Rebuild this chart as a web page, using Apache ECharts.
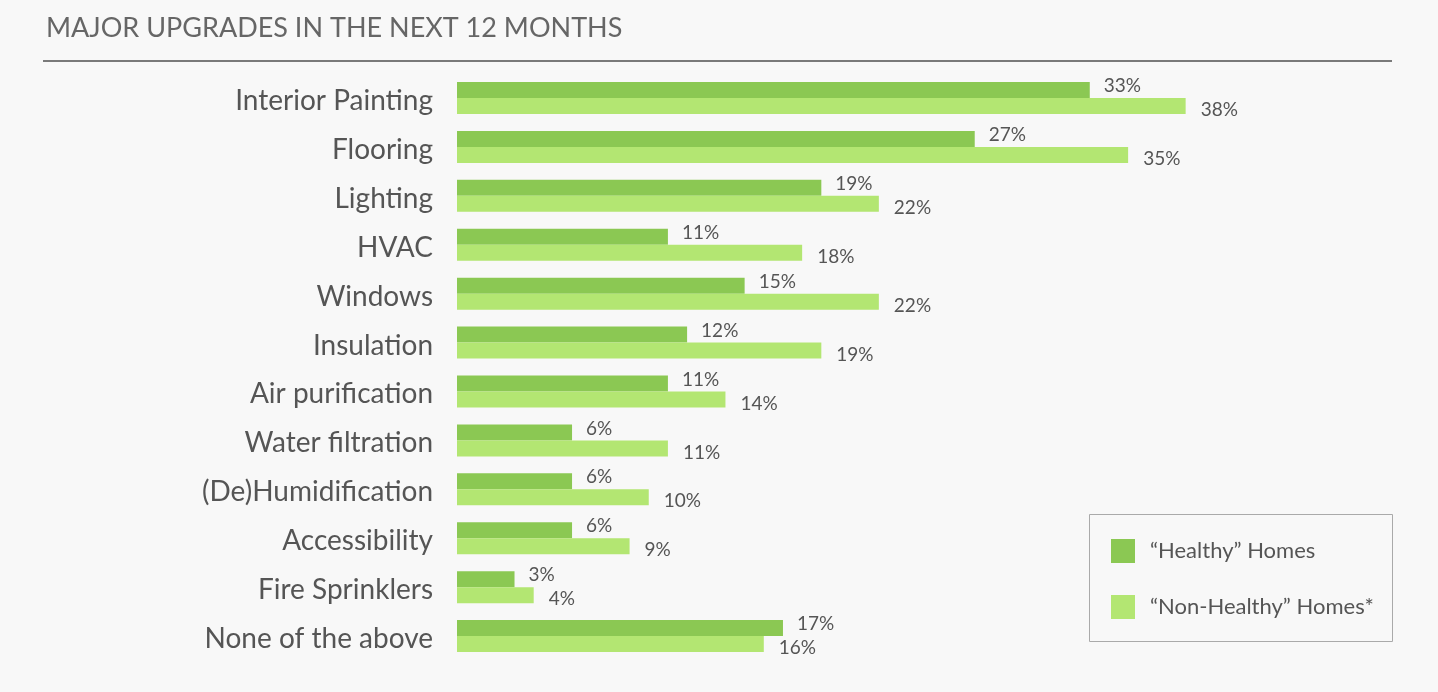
<!DOCTYPE html>
<html><head><meta charset="utf-8">
<script src="https://cdn.jsdelivr.net/npm/echarts@6/dist/echarts.min.js"></script>
<style>html,body{margin:0;padding:0;background:#f8f8f8}#c{width:1438px;height:692px}</style>
</head><body><div id="c"></div>
<script>
const categories = ["Interior Painting","Flooring","Lighting","HVAC","Windows","Insulation","Air purification","Water filtration","(De)Humidification","Accessibility","Fire Sprinklers","None of the above"];
const healthy = [33,27,19,11,15,12,11,6,6,6,3,17];
const nonHealthy = [38,35,22,18,22,19,14,11,10,9,4,16];
const seriesNames = ["\u201cHealthy\u201d Homes","\u201cNon-Healthy\u201d Homes*"];
const titleText = "MAJOR UPGRADES IN THE NEXT 12 MONTHS";

const FONT = "Lato";
const chart = echarts.init(document.getElementById('c'));
chart.setOption({
  backgroundColor: '#f8f8f8',
  animation: false,
  title: {text: titleText, left: 41, top: 10, textStyle: {fontFamily: FONT, fontWeight: 'normal', fontSize: 27, color: '#666'}},
  graphic: [
    {type: 'line', shape: {x1: 43, y1: 61, x2: 1392, y2: 61}, style: {stroke: '#7a7a7a', lineWidth: 2}},
    {type: 'rect', shape: {x: 1089.5, y: 514.5, width: 303, height: 127}, style: {fill: 'none', stroke: '#aaa', lineWidth: 1}}
  ],
  legend: {
    orient: 'vertical', left: 1106, top: 534, itemWidth: 24, itemHeight: 24, itemGap: 32, icon: 'rect',
    textStyle: {fontFamily: FONT, fontSize: 22, color: '#555', padding: [0,0,0,10]},
    data: seriesNames
  },
  grid: {left: 457, top: 73.5, width: 767, height: 587},
  xAxis: {type: 'value', min: 0, max: 40, show: false},
  yAxis: {type: 'category', inverse: true, data: categories,
    axisLine: {show: false}, axisTick: {show: false},
    axisLabel: {margin: 24, formatter: v => '{a|' + v + '}',
      rich: {a: {fontFamily: FONT, fontSize: 28, color: '#555', padding: [6,0,0,0]}}}},
  series: [
    {name: seriesNames[0], type: 'bar', data: healthy, barWidth: 16, barGap: '0%', itemStyle: {color: '#8bc853'},
     label: {show: true, position: 'right', distance: 14, offset: [0, -4], formatter: '{c}%', fontFamily: FONT, fontSize: 19, color: '#555'}},
    {name: seriesNames[1], type: 'bar', data: nonHealthy, barWidth: 16, itemStyle: {color: '#b3e672'},
     label: {show: true, position: 'right', distance: 15, offset: [0, 4], formatter: '{c}%', fontFamily: FONT, fontSize: 19, color: '#555'}}
  ]
});
</script></body></html>
